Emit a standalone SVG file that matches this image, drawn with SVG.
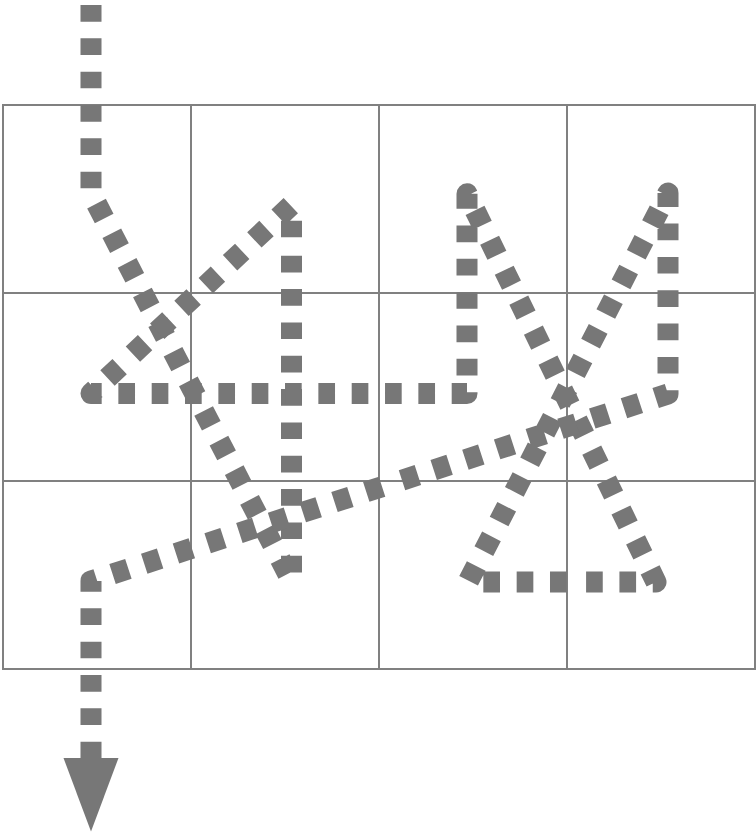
<svg xmlns="http://www.w3.org/2000/svg" width="756" height="835" viewBox="0 0 756 835">
<style>
.cell{fill:#ffffff;stroke:#808080;stroke-width:2}
.route{fill:none;stroke:#777777;stroke-width:21;stroke-dasharray:16.667 16.667;stroke-linejoin:round;stroke-linecap:butt}
.head{fill:#777777}
</style>
<rect width="756" height="835" fill="#ffffff"/>
<g id="grid">
<g id="cell-r1c1"><rect class="cell" x="3" y="105" width="188" height="188"/></g>
<g id="cell-r1c2"><rect class="cell" x="191" y="105" width="188" height="188"/></g>
<g id="cell-r1c3"><rect class="cell" x="379" y="105" width="188" height="188"/></g>
<g id="cell-r1c4"><rect class="cell" x="567" y="105" width="188" height="188"/></g>
<g id="cell-r2c1"><rect class="cell" x="3" y="293" width="188" height="188"/></g>
<g id="cell-r2c2"><rect class="cell" x="191" y="293" width="188" height="188"/></g>
<g id="cell-r2c3"><rect class="cell" x="379" y="293" width="188" height="188"/></g>
<g id="cell-r2c4"><rect class="cell" x="567" y="293" width="188" height="188"/></g>
<g id="cell-r3c1"><rect class="cell" x="3" y="481" width="188" height="188"/></g>
<g id="cell-r3c2"><rect class="cell" x="191" y="481" width="188" height="188"/></g>
<g id="cell-r3c3"><rect class="cell" x="379" y="481" width="188" height="188"/></g>
<g id="cell-r3c4"><rect class="cell" x="567" y="481" width="188" height="188"/></g>
</g>
<g id="connectors">
<path class="route" stroke-dashoffset="28.33" d="M91,0 V193 L291.5,581 V245.7"/>
<path class="route" stroke-dashoffset="25" d="M291.5,245.7 V205 L125.7,360.85"/>
<path class="route" stroke-dashoffset="25" d="M125.7,360.85 L91,393.5 H467 V193.8 L656,582 H575"/>
<path class="route" stroke-dashoffset="25" d="M575,582 H468 L668,193 V394 L390,484.1"/>
<path class="route" stroke-dashoffset="25" d="M390,484.1 L91,581 V758"/>
<polygon class="head" points="63.5,758 118.5,758 91,831.5"/>
</g>
</svg>
